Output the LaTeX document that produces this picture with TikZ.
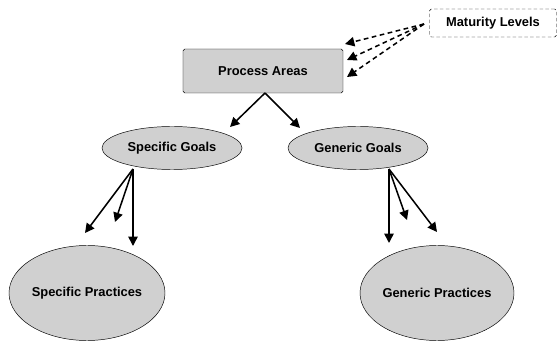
\documentclass[tikz,border=0pt]{standalone}
\usepackage{fontspec}
\setmainfont{Liberation Sans}
\usetikzlibrary{shapes.geometric,arrows.meta}
\definecolor{boxgray}{HTML}{D0D0D0}
\tikzset{
  label/.style={font=\fontsize{11}{13}\selectfont\bfseries},
  area/.style={label,draw,rounded corners=1.5pt,fill=boxgray,minimum width=4.8cm,minimum height=1.32cm},
  goal/.style={label,ellipse,draw,fill=boxgray,inner sep=0pt,minimum width=4.2cm,minimum height=1.29cm},
  practice/.style={label,ellipse,draw,fill=boxgray,inner sep=0pt,minimum width=4.5cm,minimum height=2.85cm},
  level/.style={label,draw,rounded corners=1.5pt,dash pattern=on 3pt off 2pt,minimum width=3.81cm,minimum height=0.84cm},
  link/.style={-{Triangle[length=8pt,width=8pt]},line width=1.3pt},
  dashlink/.style={link,dash pattern=on 4pt off 3pt}
}
\begin{document}
\begin{tikzpicture}[x=0.03cm,y=-0.03cm]
  \useasboundingbox (0,0) rectangle (559,343);
  \draw
    (263,71) node[area] (areas){Process Areas}
    (493,23) node[level] (levels){Maturity Levels}
    (172,148) node[goal] (sg){Specific Goals}
    (358,148) node[goal] (gg){Generic Goals}
    (87,293) node[practice] (sp){Specific Practices}
    (437,293) node[practice] (gp){Generic Practices};
  \coordinate (a0) at (265,93);
  \coordinate (a1) at (230,127);
  \coordinate (a2) at (300,128);
  \coordinate (m0) at (424,24);
  \coordinate (m1) at (345,44);
  \coordinate (m2) at (347,60);
  \coordinate (m3) at (347,77);
  \coordinate (s0) at (133,169);
  \coordinate (s1) at (85,233);
  \coordinate (s2) at (115,222);
  \coordinate (s3) at (133,246);
  \coordinate (g0) at (389,169);
  \coordinate (g1) at (389,243);
  \coordinate (g2) at (407,220);
  \coordinate (g3) at (437,232);
  \begin{scope}[link]
    \draw (a0) to (a1);
    \draw (a0) to (a2);
    \draw (s0) to (s1);
    \draw (s0) to (s2);
    \draw (s0) to (s3);
    \draw (g0) to (g1);
    \draw (g0) to (g2);
    \draw (g0) to (g3);
  \end{scope}
  \begin{scope}[dashlink]
    \draw (m0) to (m1);
    \draw (m0) to (m2);
    \draw (m0) to (m3);
  \end{scope}
\end{tikzpicture}
\end{document}
